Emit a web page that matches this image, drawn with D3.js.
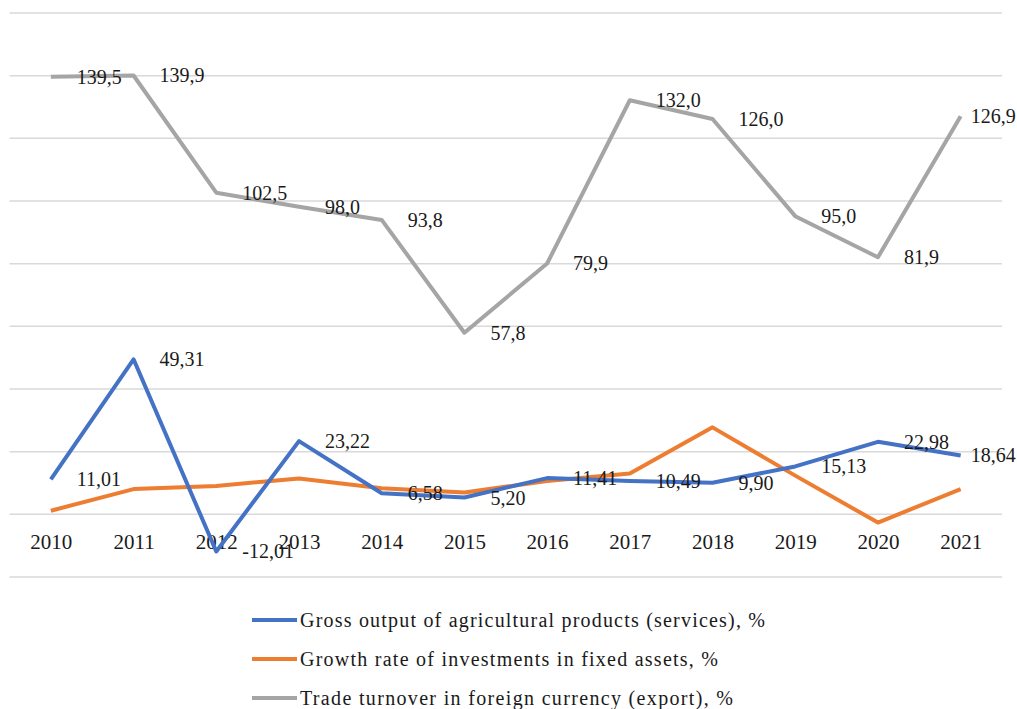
<!DOCTYPE html>
<html>
<head>
<meta charset="utf-8">
<script src="https://cdn.jsdelivr.net/npm/d3@7"></script>
<style>
  html, body { margin: 0; padding: 0; background: #fff; }
  svg { display: block; font-family: "Liberation Serif", "Times New Roman", serif; }
</style>
</head>
<body>
<div id="chart"></div>
<script>
const years = ["2010", "2011", "2012", "2013", "2014", "2015", "2016", "2017", "2018", "2019", "2020", "2021"];
const grossOutput = [11.01, 49.31, -12.01, 23.22, 6.58, 5.20, 11.41, 10.49, 9.90, 15.13, 22.98, 18.64];
const investGrowth = [1.0, 7.9, 8.9, 11.3, 8.2, 6.8, 10.5, 12.9, 27.6, 12.2, -2.8, 7.9];
const tradeTurnover = [139.5, 139.9, 102.5, 98.0, 93.8, 57.8, 79.9, 132.0, 126.0, 95.0, 81.9, 126.9];
const seriesNames = [
  "Gross output of agricultural products (services), %",
  "Growth rate of investments in fixed assets, %",
  "Trade turnover in foreign currency (export), %"
];
const yTicks = [-20, 0, 20, 40, 60, 80, 100, 120, 140, 160];

const width = 1017, height = 709;
const colors = ["#4472C4", "#ED7D31", "#A5A5A5"];
const textColor = "#1a1a1a";

const svg = d3.select("#chart").append("svg").attr("width", width).attr("height", height);

const x = d3.scalePoint().domain(years).range([9.5, 1002]).padding(0.5);
const y = d3.scaleLinear().domain([-20, 160]).range([576.5, 12.5]);

// gridlines
svg.append("g")
  .attr("transform", "translate(9.5,0)")
  .call(d3.axisLeft(y).tickValues(yTicks).tickSize(-(1002 - 9.5)).tickFormat(""))
  .call(g => g.select(".domain").remove())
  .call(g => g.selectAll(".tick line").attr("stroke", "#d9d9d9").attr("stroke-width", 1.5));

// year labels
svg.append("g")
  .attr("transform", `translate(0,${y(0) + 28})`)
  .call(d3.axisBottom(x).tickSize(0).tickPadding(0))
  .call(g => g.select(".domain").remove())
  .call(g => g.attr("font-family", null))
  .call(g => g.selectAll("text")
    .attr("font-size", 21).attr("fill", textColor)
    .attr("dy", "0.35em"));

const line = d3.line().x((d, i) => x(years[i])).y(d => y(d));
const allSeries = [grossOutput, investGrowth, tradeTurnover];

// trade first (behind), then orange, then blue on top
[2, 1, 0].forEach(s => {
  svg.append("path")
    .datum(allSeries[s])
    .attr("fill", "none")
    .attr("stroke", colors[s])
    .attr("stroke-width", 4)
    .attr("stroke-linejoin", "round")
    .attr("d", line);
});

function fmt(v, n) { return v.toFixed(n).replace(".", ","); }

// data labels, right of each point; the last one is pulled in to fit
[[tradeTurnover, 1], [grossOutput, 2]].forEach(([vals, n]) => {
  svg.append("g").selectAll("text").data(vals).join("text")
    .attr("x", (d, i) => x(years[i]) + (i === years.length - 1 ? 10 : 26))
    .attr("y", d => y(d))
    .attr("dy", "0.35em")
    .attr("font-size", 20)
    .attr("fill", textColor)
    .text(d => fmt(d, n));
});

// legend
const legend = svg.append("g");
const legendY = [620, 659, 698];
const legendLen = [465, 418, 433];
seriesNames.forEach((name, i) => {
  legend.append("line")
    .attr("x1", 252).attr("x2", 297)
    .attr("y1", legendY[i]).attr("y2", legendY[i])
    .attr("stroke", colors[i]).attr("stroke-width", 4);
  legend.append("text")
    .attr("x", 300).attr("y", legendY[i])
    .attr("dy", "0.35em")
    .attr("font-size", 20)
    .attr("fill", textColor)
    .attr("textLength", legendLen[i])
    .attr("lengthAdjust", "spacing")
    .text(name);
});
</script>
</body>
</html>
